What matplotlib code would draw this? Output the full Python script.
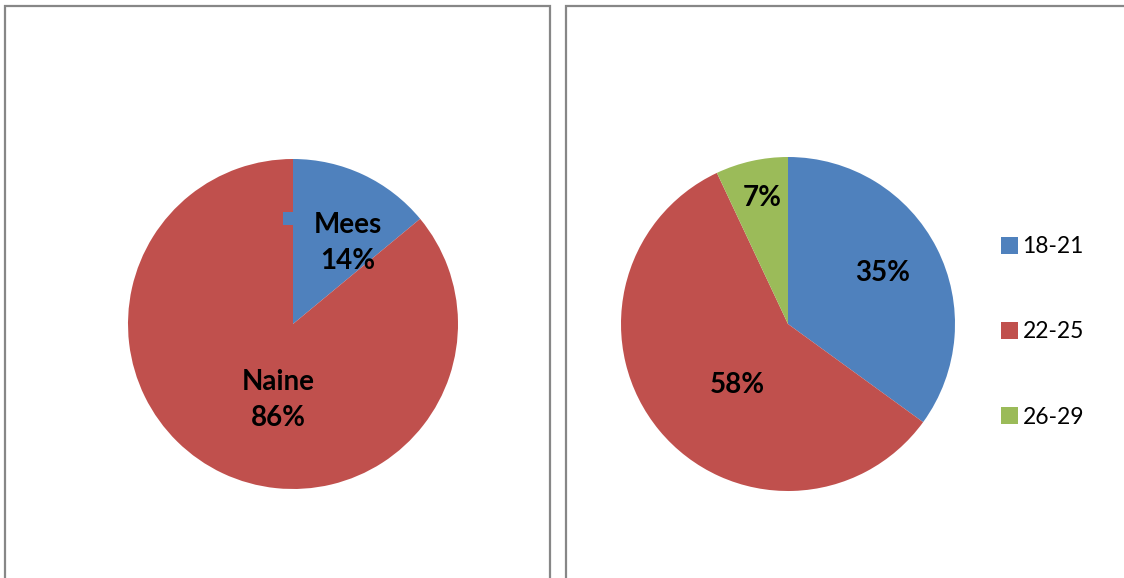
import matplotlib.pyplot as plt
from matplotlib.patches import Rectangle

# data
gender_labels = ['Mees', 'Naine']
gender_values = [14, 86]
age_labels = ['18-21', '22-25', '26-29']
age_values = [35, 58, 7]

blue, red, green = '#4F81BD', '#C0504D', '#9BBB59'
W, H = 1124, 578

plt.rcParams['font.family'] = ['Lato', 'DejaVu Sans']

fig = plt.figure(figsize=(W / 100, H / 100), dpi=100)

def px_axes(cx, cy, r):
    return fig.add_axes([(cx - r) / W, (H - cy - r) / H, 2 * r / W, 2 * r / H])

# panel borders
border = dict(fill=False, edgecolor='#878787', linewidth=1.6, transform=fig.transFigure)
fig.patches.append(Rectangle((5 / W, -0.05), (550 - 5) / W, 1.05 - 6 / H, **border))
fig.patches.append(Rectangle((566 / W, -0.05), 1.0, 1.05 - 6 / H, **border))

# left pie
ax1 = px_axes(293, 324, 165)
ax1.pie(gender_values, colors=[blue, red], startangle=90, counterclock=False,
        radius=1, wedgeprops=dict(linewidth=0))
ax1.set_xlim(-1, 1)
ax1.set_ylim(-1, 1)
ax1.axis('off')
ax1.add_patch(Rectangle((-0.06, 0.6), 0.06, 0.08, facecolor=blue, edgecolor='none'))
lab = dict(ha='center', va='center', fontsize=20, fontweight='bold', linespacing=1.5)
ax1.text(0.333, 0.49, f'{gender_labels[0]}\n{gender_values[0]}%', **lab)
ax1.text(-0.09, -0.46, f'{gender_labels[1]}\n{gender_values[1]}%', **lab)

# right pie
ax2 = px_axes(788, 324, 167)
wedges, _ = ax2.pie(age_values, colors=[blue, red, green], startangle=90, counterclock=False,
                    radius=1, wedgeprops=dict(linewidth=0))
ax2.set_xlim(-1, 1)
ax2.set_ylim(-1, 1)
ax2.axis('off')
pos = [(0.569, 0.305), (-0.305, -0.365), (-0.156, 0.754)]
for (x, y), v in zip(pos, age_values):
    ax2.text(x, y, f'{v}%', **lab)

fig.legend(wedges, age_labels, loc='center left', bbox_to_anchor=(980 / W, 1 - 332 / H),
           frameon=False, fontsize=16.5, handlelength=0.75, handleheight=0.75,
           handletextpad=0.2, labelspacing=2.8)

plt.savefig('out.png', dpi=100)
